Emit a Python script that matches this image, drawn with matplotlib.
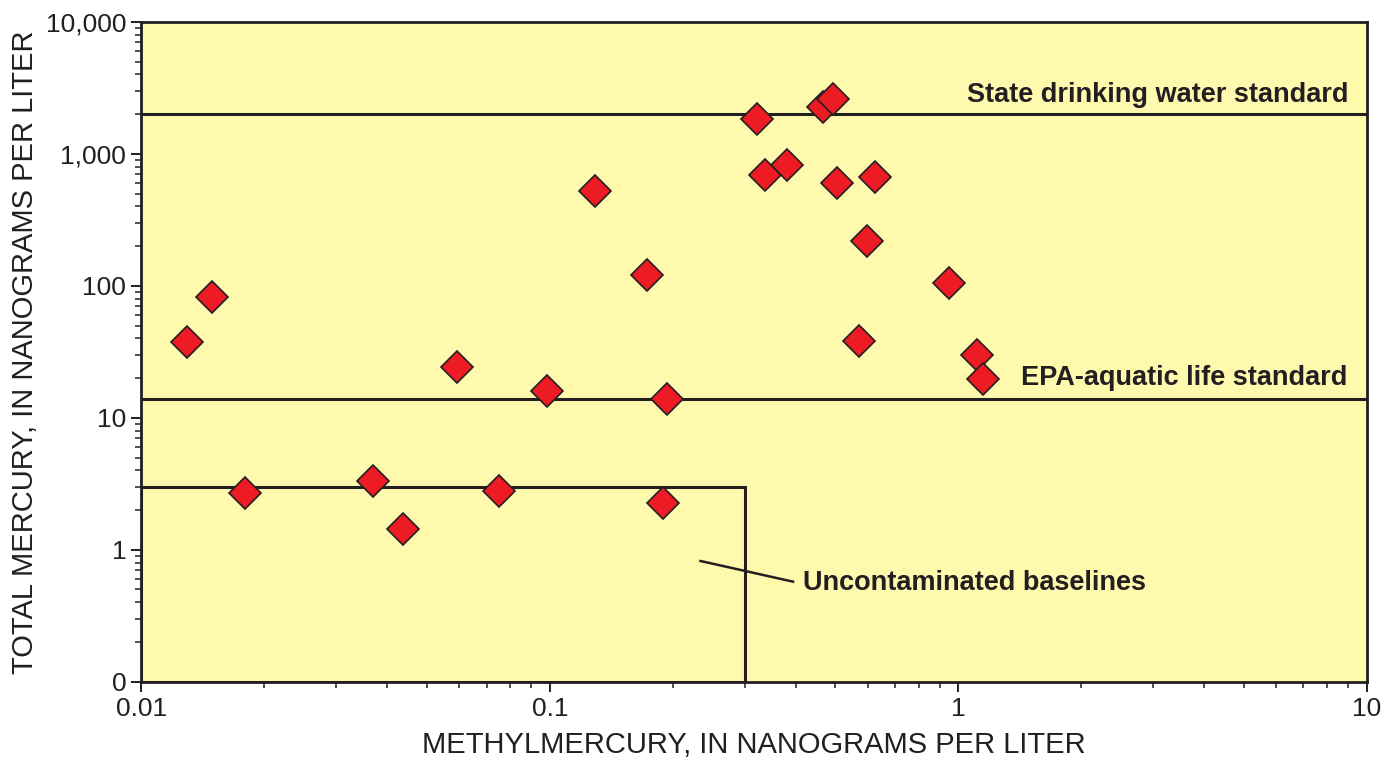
import matplotlib
matplotlib.use('Agg')
import matplotlib.pyplot as plt
import matplotlib.patches as patches
from matplotlib.ticker import FixedLocator, LogLocator, NullFormatter
import matplotlib.transforms as mtransforms

# 데이터
methyl_hg = [0.0129, 0.0149, 0.0179, 0.0369, 0.0437, 0.0592, 0.0750, 0.0983,
             0.129, 0.173, 0.189, 0.193, 0.321, 0.336, 0.380, 0.466,
             0.493, 0.504, 0.597, 0.625, 0.571, 0.948, 1.11, 1.148]
total_hg = [37.8, 82.1, 2.68, 3.31, 1.43, 24.2, 2.78, 15.9,
            522, 120.5, 2.25, 13.8, 1836, 690, 822, 2264,
            2603, 600, 218, 667, 38.1, 104.8, 29.8, 19.6]

state_standard = 2000
epa_standard = 14
baseline_box = (0.01, 0.3, 0.1, 3)  # x0, x1, y0, y1

x_ticks = [0.01, 0.1, 1, 10]
x_tick_labels = ['0.01', '0.1', '1', '10']
y_ticks = [0.1, 1, 10, 100, 1000, 10000]
y_tick_labels = ['0', '1', '10', '100', '1,000', '10,000']

# 스타일
plt.rcParams['font.family'] = ['Liberation Sans', 'DejaVu Sans']
ink = '#231F20'
bg = '#FFF9AE'

fig = plt.figure(figsize=(13.98, 7.6), dpi=100)
ax = fig.add_axes([0.1012, 0.1030, 0.8764, 0.8681])
ax.set_facecolor(bg)
ax.set_xscale('log')
ax.set_yscale('log')
ax.set_xlim(0.01, 10)
ax.set_ylim(0.1, 10000)

# 기준선
ax.axhline(state_standard, color=ink, lw=2.2, zorder=2)
ax.axhline(epa_standard, color=ink, lw=2.2, zorder=2)

# 비오염 기준 박스
bx0, bx1, by0, by1 = baseline_box
rect = patches.Rectangle((bx0, by0), bx1 - bx0, by1 - by0,
                         linewidth=2.2, edgecolor=ink, facecolor='none', zorder=2)
ax.add_patch(rect)

# 점
ax.plot(methyl_hg, total_hg, ls='none', marker='D', ms=16.5,
        mfc='#ED1C24', mec=ink, mew=1.2, zorder=3)

# 라벨
trans = mtransforms.blended_transform_factory(ax.transAxes, ax.transData)
ax.text(0.9848, 2495, 'State drinking water standard', transform=trans,
        ha='right', va='baseline', fontsize=19.5, fontweight='bold', color=ink)
ax.text(0.9839, 17.8, 'EPA-aquatic life standard', transform=trans,
        ha='right', va='baseline', fontsize=19.5, fontweight='bold', color=ink)
ax.plot([0.2338, 0.394], [0.822, 0.573], color=ink, lw=1.8, zorder=2)
ax.text(0.4156, 0.56, 'Uncontaminated baselines', ha='left', va='center',
        fontsize=19.5, fontweight='bold', color=ink)

# 축
ax.xaxis.set_major_locator(FixedLocator(x_ticks))
ax.set_xticklabels(x_tick_labels)
ax.yaxis.set_major_locator(FixedLocator(y_ticks))
ax.set_yticklabels(y_tick_labels)
for axis in (ax.xaxis, ax.yaxis):
    axis.set_minor_locator(LogLocator(base=10, subs=range(2, 10)))
    axis.set_minor_formatter(NullFormatter())
ax.tick_params(which='major', direction='out', length=7, width=1.4,
               color=ink, labelsize=19, labelcolor=ink, pad=4)
ax.tick_params(which='minor', direction='out', length=4, width=1.1, color=ink)
for sp in ax.spines.values():
    sp.set_color(ink)
    sp.set_linewidth(2.0)

ax.set_xlabel('METHYLMERCURY, IN NANOGRAMS PER LITER', fontsize=21, color=ink, labelpad=7)
ax.set_ylabel('TOTAL MERCURY, IN NANOGRAMS PER LITER', fontsize=21, color=ink, labelpad=5)

fig.savefig('out.png', dpi=100)
